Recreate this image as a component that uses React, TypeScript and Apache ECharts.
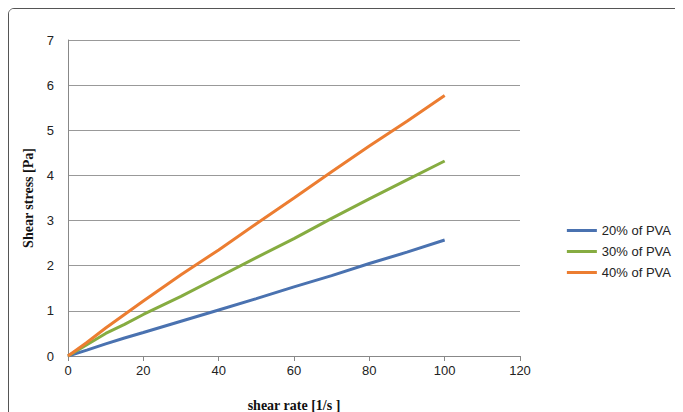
import { useEffect, useRef } from 'react';
import * as echarts from 'echarts';

const shearRate = [0, 5, 10, 15, 20, 30, 40, 50, 60, 70, 80, 90, 100];
const pva20 = [0, 0.13, 0.27, 0.4, 0.52, 0.77, 1.02, 1.27, 1.53, 1.78, 2.05, 2.3, 2.57];
const pva30 = [0, 0.25, 0.5, 0.7, 0.92, 1.32, 1.75, 2.18, 2.6, 3.05, 3.48, 3.9, 4.32];
const pva40 = [0, 0.3, 0.62, 0.92, 1.22, 1.8, 2.35, 2.93, 3.5, 4.08, 4.65, 5.2, 5.77];
const seriesNames = ['20% of PVA', '30% of PVA', '40% of PVA'];
const colors = ['#4a72b0', '#86ac41', '#ec7d31'];

export default function App() {
  const ref = useRef<HTMLDivElement>(null);

  useEffect(() => {
    if (!ref.current) return;
    const chart = echarts.init(ref.current, null, { renderer: 'svg' });
    const mk = (vals: number[]) => shearRate.map((x, i) => [x, vals[i]]);
    chart.setOption({
      animation: false,
      backgroundColor: '#fff',
      grid: { left: 59, right: 160, top: 31, bottom: 63 },
      legend: {
        orient: 'vertical',
        right: 4,
        top: 210,
        itemWidth: 30,
        itemHeight: 3,
        itemGap: 8,
        icon: 'rect',
        textStyle: { fontFamily: 'Liberation Sans, Arial', fontSize: 13, color: '#222' },
        data: seriesNames,
      },
      xAxis: {
        type: 'value',
        min: 0,
        max: 120,
        interval: 20,
        name: 'shear rate [1/s ]',
        nameLocation: 'middle',
        nameGap: 42,
        nameTextStyle: { fontFamily: 'Liberation Serif, Times New Roman', fontWeight: 'bold', fontSize: 14, color: '#111' },
        axisLine: { lineStyle: { color: '#888' } },
        axisTick: { show: true, length: 5, lineStyle: { color: '#888' } },
        axisLabel: { fontFamily: 'Liberation Sans, Arial', fontSize: 13, color: '#222' },
        splitLine: { show: false },
      },
      yAxis: {
        type: 'value',
        min: 0,
        max: 7,
        interval: 1,
        name: 'Shear stress [Pa]',
        nameLocation: 'middle',
        nameGap: 30,
        nameTextStyle: { fontFamily: 'Liberation Serif, Times New Roman', fontWeight: 'bold', fontSize: 14, color: '#111' },
        axisLine: { show: true, lineStyle: { color: '#888' } },
        axisTick: { show: false },
        axisLabel: { fontFamily: 'Liberation Sans, Arial', fontSize: 13, color: '#222', margin: 14 },
        splitLine: { lineStyle: { color: '#999' } },
      },
      series: [pva20, pva30, pva40].map((vals, i) => ({
        name: seriesNames[i],
        type: 'line',
        data: mk(vals),
        showSymbol: false,
        lineStyle: { width: 3, color: colors[i] },
        itemStyle: { color: colors[i] },
      })),
    });
    return () => chart.dispose();
  }, []);

  return (
    <div style={{ margin: -8 }}>
      <div
        ref={ref}
        style={{
          width: 673,
          height: 412,
          marginLeft: 8,
          marginTop: 8,
          border: '1px solid #555',
          borderRadius: 6,
          boxSizing: 'border-box',
          overflow: 'hidden',
        }}
      />
    </div>
  );
}
